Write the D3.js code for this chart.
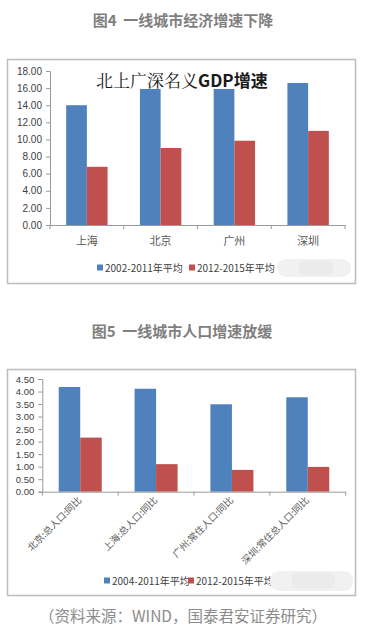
<!DOCTYPE html>
<html><head><meta charset="utf-8">
<script src="https://cdn.jsdelivr.net/npm/d3@7"></script>
<style>body{margin:0;background:#fff}svg{display:block}</style>
</head><body>
<script>
// Chart 1 data
const cities1 = ["上海", "北京", "广州", "深圳"];
const gdp2002_2011 = [14.0, 15.9, 15.9, 16.6];
const gdp2012_2015 = [6.8, 9.0, 9.85, 11.0];
const yTicks1 = [0, 2, 4, 6, 8, 10, 12, 14, 16, 18];
const series1 = ["2002-2011年平均", "2012-2015年平均"];

// Chart 2 data
const cities2 = ["北京:总人口:同比", "上海:总人口:同比", "广州:常住人口:同比", "深圳:常住总人口:同比"];
const pop2004_2011 = [4.18, 4.11, 3.49, 3.77];
const pop2012_2015 = [2.16, 1.10, 0.87, 0.99];
const yTicks2 = [0, 0.5, 1, 1.5, 2, 2.5, 3, 3.5, 4, 4.5];
const series2 = ["2004-2011年平均", "2012-2015年平均"];

const colors = ["#4f81bd", "#c0504d"];
const W = 367, H = 632;
const svg = d3.select("body").append("svg").attr("width", W).attr("height", H);
const cjk = "'Noto Sans CJK SC', 'Noto Sans', sans-serif";

// Figure titles
svg.append("text").attr("x", 183).attr("y", 26).attr("text-anchor", "middle")
  .attr("font-family", cjk).attr("font-weight", "bold").attr("font-size", 15).attr("fill", "#7f7f7f")
  .text("图4\u00a0\u00a0一线城市经济增速下降");
svg.append("text").attr("x", 182).attr("y", 337).attr("text-anchor", "middle")
  .attr("font-family", cjk).attr("font-weight", "bold").attr("font-size", 15).attr("fill", "#7f7f7f")
  .text("图5\u00a0\u00a0一线城市人口增速放缓");

// Frames
svg.append("rect").attr("x", 7.5).attr("y", 59.5).attr("width", 348).attr("height", 224)
  .attr("fill", "#fff").attr("stroke", "#bdbdbd").attr("stroke-width", 1.5);
svg.append("rect").attr("x", 7.5).attr("y", 369.5).attr("width", 348).attr("height", 226)
  .attr("fill", "#fff").attr("stroke", "#bdbdbd").attr("stroke-width", 1.5);

function drawChart(cfg) {
  const g = svg.append("g");
  const x = d3.scaleBand().domain(cfg.cats).range([cfg.x0, cfg.x1]).paddingInner(0).paddingOuter(0);
  const y = d3.scaleLinear().domain([0, cfg.ymax]).range([cfg.y0, cfg.y1]);
  const bw = cfg.barW;
  // y axis
  const ya = g.append("g").attr("transform", `translate(${cfg.x0},0)`)
    .call(d3.axisLeft(y).tickValues(cfg.yTicks).tickFormat(d3.format(".2f")).tickSize(4).tickPadding(4));
  ya.select(".domain").attr("stroke", "#9a9a9a");
  ya.selectAll(".tick line").attr("stroke", "#9a9a9a");
  ya.selectAll("text").attr("font-family", "'Liberation Sans', Arial, sans-serif").attr("font-size", cfg.yfs).attr("fill", "#404040");
  // bars
  cfg.vals.forEach((vals, si) => {
    g.selectAll(null).data(vals).enter().append("rect")
      .attr("x", (d, i) => x(cfg.cats[i]) + x.bandwidth() / 2 - bw + si * bw)
      .attr("y", d => y(d))
      .attr("width", bw)
      .attr("height", d => y(0) - y(d))
      .attr("fill", colors[si]);
  });
  // x axis
  const xa = g.append("g").attr("transform", `translate(0,${cfg.y0})`)
    .call(d3.axisBottom(x).tickSize(0).tickFormat(""));
  xa.select(".domain").attr("stroke", "#9a9a9a");
  const ticks = cfg.cats.map(c => x(c)).concat([cfg.x1]);
  g.selectAll(null).data(ticks).enter().append("line")
    .attr("x1", d => d).attr("x2", d => d).attr("y1", cfg.y0).attr("y2", cfg.y0 + 4).attr("stroke", "#9a9a9a");
  // labels
  if (cfg.rotate) {
    g.selectAll(null).data(cfg.cats).enter().append("text")
      .attr("transform", d => `translate(${x(d) + x.bandwidth() / 2 + 2},${cfg.y0 + 9}) rotate(-45)`)
      .attr("text-anchor", "end").attr("font-family", cjk).attr("font-size", 9.5).attr("fill", "#5a5a5a")
      .text(d => d);
  } else {
    g.selectAll(null).data(cfg.cats).enter().append("text")
      .attr("x", d => x(d) + x.bandwidth() / 2).attr("y", cfg.y0 + 20)
      .attr("text-anchor", "middle").attr("font-family", cjk).attr("font-size", 11).attr("fill", "#595959")
      .text(d => d);
  }
  // legend
  cfg.series.forEach((s, i) => {
    const lx = cfg.legX[i];
    g.append("rect").attr("x", lx).attr("y", cfg.legY - 3.5).attr("width", 6).attr("height", 6).attr("fill", colors[i]);
    g.append("text").attr("x", lx + 8).attr("y", cfg.legY + 3.5).attr("font-family", cjk)
      .attr("font-size", 10).attr("fill", "#404040").text(s);
  });
  // blurred watermark block
  g.append("rect").attr("x", cfg.blur[0]).attr("y", cfg.blur[1]).attr("width", cfg.blur[2]).attr("height", cfg.blur[3])
    .attr("rx", 9).attr("fill", "#f1f1f1");
  g.append("rect").attr("x", cfg.blur[0] + 22).attr("y", cfg.blur[1] + 2).attr("width", cfg.blur[2] - 40).attr("height", cfg.blur[3] - 4)
    .attr("rx", 6).attr("fill", "#ebebeb");
  return g;
}

drawChart({
  cats: cities1, vals: [gdp2002_2011, gdp2012_2015], yTicks: yTicks1, ymax: 18,
  x0: 50, x1: 345, y0: 225, y1: 71, barW: 20.7, yfs: 10, rotate: false,
  series: series1, legX: [97, 189], legY: 268, blur: [277, 259, 74, 18]
});
drawChart({
  cats: cities2, vals: [pop2004_2011, pop2012_2015], yTicks: yTicks2, ymax: 4.5,
  x0: 42.3, x1: 345.7, y0: 491.7, y1: 379, barW: 21.5, yfs: 9.5, rotate: true,
  series: series2, legX: [104, 188], legY: 581, blur: [270, 571, 83, 20]
});

// Inner title chart 1
const t = svg.append("text").attr("x", 96).attr("y", 87).attr("font-size", 17).attr("fill", "#1a1a1a");
t.append("tspan").attr("font-family", "'Noto Serif CJK SC', 'Noto Sans CJK SC', serif").text("北上广深名义");
t.append("tspan").attr("font-family", cjk).attr("font-weight", "bold").text("GDP增速");

// Source
svg.append("text").attr("x", 183).attr("y", 622).attr("text-anchor", "middle")
  .attr("font-family", cjk).attr("font-size", 15.5).attr("fill", "#8c8c8c")
  .text("（资料来源：WIND，国泰君安证券研究）");
</script>
</body></html>
